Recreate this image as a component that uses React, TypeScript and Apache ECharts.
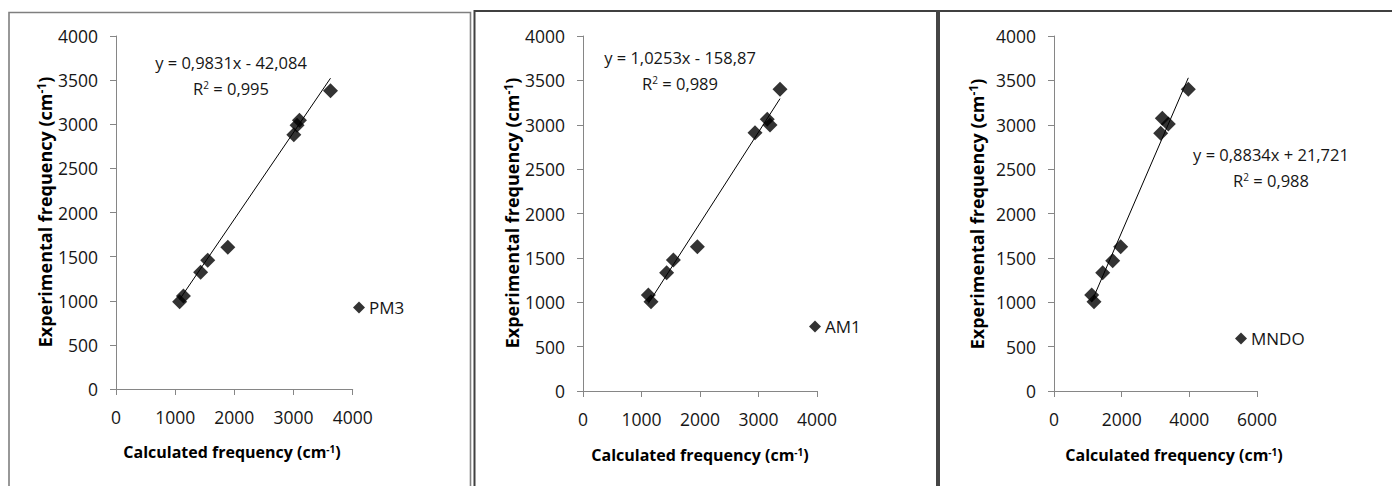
import React, { useEffect, useRef } from "react";
import * as echarts from "echarts";

// ---- Data ----
const pm3Calc = [1075, 1140, 1430, 1550, 1890, 3005, 3060, 3100, 3625];
const pm3Exp = [990, 1055, 1322, 1460, 1605, 2880, 2990, 3045, 3380];

const am1Calc = [1117, 1162, 1430, 1545, 1955, 2940, 3150, 3197, 3368];
const am1Exp = [1082, 1006, 1333, 1476, 1626, 2911, 3061, 2997, 3399];

const mndoCalc = [1114, 1182, 1439, 1735, 1971, 3153, 3201, 3379, 3970];
const mndoExp = [1082, 1006, 1333, 1468, 1626, 2903, 3073, 3008, 3399];

// regression equations printed on the chart: [slope, intercept]
const pm3Fit = [0.9831, -42.084];
const am1Fit = [1.0253, -158.87];
const mndoFit = [0.8834, 21.721];

const pm3EqText = ["y = 0,9831x - 42,084", "R{sup|2} = 0,995"];
const am1EqText = ["y = 1,0253x - 158,87", "R{sup|2} = 0,989"];
const mndoEqText = ["y = 0,8834x + 21,721", "R{sup|2} = 0,988"];

const yTicksMax = 4000;
const yTickStep = 500;
const xMax = [4000, 4000, 6000];
const xStep = [1000, 1000, 2000];

const FONT = "'Open Sans', 'Noto Sans', sans-serif";
const TXT = "#161616";
const AXIS = "#868686";

function zip(xs: number[], ys: number[]) {
  return xs.map((x, i) => [x, ys[i]]);
}
function trend(xs: number[], fit: number[]) {
  const lo = Math.min(...xs);
  const hi = Math.max(...xs);
  return [
    [lo, fit[0] * lo + fit[1]],
    [hi, fit[0] * hi + fit[1]],
  ];
}

function titleRich(size: number) {
  return {
    base: { fontSize: size, fontFamily: FONT, fontWeight: "bold", color: TXT },
    sup: { fontSize: Math.round(size * 0.65), fontFamily: FONT, fontWeight: "bold", color: TXT, verticalAlign: "top", padding: [0, 0, Math.round(size * 0.4), 0] },
  };
}
const eqRich = {
  sup: { fontSize: 10, fontFamily: FONT, color: TXT, verticalAlign: "top", padding: [0, 0, 7, 0] },
};

export default function App() {
  const ref = useRef<HTMLDivElement>(null);
  useEffect(() => {
    if (!ref.current) return;
    const chart = echarts.init(ref.current, undefined, { renderer: "svg" });

    const grids = [
      { left: 116, top: 36, width: 236.7, height: 353 },
      { left: 583, top: 36, width: 234, height: 355 },
      { left: 1054, top: 36, width: 203, height: 355 },
    ];

    const plain = (v: number) => String(v);

    const xAxes = grids.map((_, i) => ({
      type: "value",
      gridIndex: i,
      min: 0,
      max: xMax[i],
      interval: xStep[i],
      splitLine: { show: false },
      axisLine: { show: true, lineStyle: { color: AXIS, width: 1 } },
      axisTick: { show: true, inside: false, length: 6, lineStyle: { color: AXIS } },
      axisLabel: { fontSize: 17.5, fontFamily: FONT, color: TXT, margin: 19, formatter: plain },
    }));
    const yAxes = grids.map((_, i) => ({
      type: "value",
      gridIndex: i,
      min: 0,
      max: yTicksMax,
      interval: yTickStep,
      splitLine: { show: false },
      axisLine: { show: true, lineStyle: { color: AXIS, width: 1 } },
      axisTick: { show: true, inside: false, length: 6, lineStyle: { color: AXIS } },
      axisLabel: { fontSize: 17.5, fontFamily: FONT, color: TXT, margin: 18, formatter: plain },
    }));

    const sets = [
      { name: "PM3", xs: pm3Calc, ys: pm3Exp, fit: pm3Fit },
      { name: "AM1", xs: am1Calc, ys: am1Exp, fit: am1Fit },
      { name: "MNDO", xs: mndoCalc, ys: mndoExp, fit: mndoFit },
    ];

    const series: any[] = [];
    sets.forEach((s, i) => {
      series.push({
        type: "line",
        name: s.name + " trend",
        xAxisIndex: i,
        yAxisIndex: i,
        data: trend(s.xs, s.fit),
        showSymbol: false,
        symbol: "none",
        lineStyle: { color: "#000", width: 1 },
        z: 2,
      });
      series.push({
        type: "scatter",
        name: s.name,
        xAxisIndex: i,
        yAxisIndex: i,
        data: zip(s.xs, s.ys),
        symbol: "diamond",
        symbolSize: 15,
        itemStyle: { color: "#000" },
        z: 3,
      });
    });

    const legendPos = [
      { left: 353, top: 299 },
      { left: 809, top: 318 },
      { left: 1235, top: 330 },
    ];
    const legends = sets.map((s, i) => ({
      data: [s.name],
      left: legendPos[i].left,
      top: legendPos[i].top,
      orient: "horizontal",
      icon: "diamond",
      itemWidth: 12,
      itemHeight: 12,
      selectedMode: false,
      padding: 0,
      textStyle: { fontSize: 17, fontFamily: FONT, color: TXT, padding: [0, 0, 0, -1] },
    }));

    const eqPos = [
      { x: 231, y1: 62, y2: 88, t: pm3EqText },
      { x: 680, y1: 57, y2: 83, t: am1EqText },
      { x: 1271, y1: 154, y2: 180, t: mndoEqText },
    ];

    const xTitlePos = [
      { x: 232, y: 452 },
      { x: 700, y: 455 },
      { x: 1174, y: 455 },
    ];
    const yTitlePos = [
      { x: 45, y: 212 },
      { x: 512, y: 213 },
      { x: 977, y: 214 },
    ];

    const graphic: any[] = [
      {
        type: "polyline",
        shape: { points: [[9, 486], [9, 12.5], [470.5, 12.5], [470.5, 486]] },
        style: { stroke: "#7f7f7f", lineWidth: 1.6, fill: null },
        silent: true,
      },
      {
        type: "polyline",
        shape: { points: [[474.5, 486], [474.5, 11], [1392, 11]] },
        style: { stroke: "#404040", lineWidth: 2, fill: null },
        silent: true,
      },
      {
        type: "line",
        shape: { x1: 938, y1: 10, x2: 938, y2: 486 },
        style: { stroke: "#454545", lineWidth: 4 },
        silent: true,
      },
    ];
    eqPos.forEach((e) => {
      graphic.push({
        type: "text",
        x: e.x,
        y: e.y1,
        style: { text: e.t[0], fontSize: 16.5, fontFamily: FONT, fill: TXT, align: "center", verticalAlign: "middle" },
        silent: true,
      });
      graphic.push({
        type: "text",
        x: e.x,
        y: e.y2,
        style: { text: e.t[1], fontSize: 16.5, fontFamily: FONT, fill: TXT, align: "center", verticalAlign: "middle", rich: eqRich },
        silent: true,
      });
    });
    xTitlePos.forEach((p) => {
      graphic.push({
        type: "text",
        x: p.x,
        y: p.y,
        style: {
          text: "{base|Calculated frequency (cm}{sup|-1}{base|)}",
          align: "center",
          verticalAlign: "middle",
          rich: titleRich(16),
        },
        silent: true,
      });
    });
    yTitlePos.forEach((p) => {
      graphic.push({
        type: "text",
        x: p.x,
        y: p.y,
        rotation: Math.PI / 2,
        style: {
          text: "{base|Experimental frequency (cm}{sup|-1}{base|)}",
          align: "center",
          verticalAlign: "middle",
          rich: titleRich(18),
        },
        silent: true,
      });
    });

    chart.setOption({
      animation: false,
      backgroundColor: "#ffffff",
      grid: grids,
      xAxis: xAxes,
      yAxis: yAxes,
      legend: legends,
      series,
      graphic,
    });
    return () => chart.dispose();
  }, []);

  return (
    <div
      ref={ref}
      style={{ position: "fixed", left: 0, top: 0, width: 1392, height: 486, background: "#fff" }}
    />
  );
}
